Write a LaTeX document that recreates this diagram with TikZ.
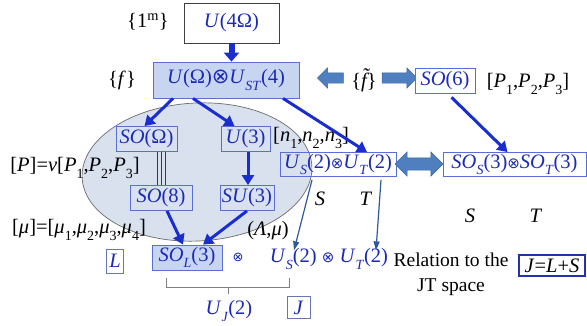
\documentclass[tikz,border=0pt]{standalone}
\usepackage{fontspec}
\setmainfont{Liberation Serif}
\newfontfamily\symf{DejaVu Sans}
\usetikzlibrary{shapes.arrows,arrows.meta}
\definecolor{tblue}{HTML}{1C2BB5}
\definecolor{bord}{HTML}{5A6FD6}
\definecolor{lfill}{HTML}{C8D5F0}
\definecolor{efill}{HTML}{D9E1EF}
\definecolor{blk}{HTML}{4F7FBF}
\definecolor{thinc}{HTML}{2E5A9A}
\definecolor{arrc}{HTML}{1A2ED0}
\definecolor{navyb}{HTML}{2233AA}
\newcommand\lo[1]{\raisebox{-0.32em}{\fontsize{14}{14}\selectfont #1}}
\newcommand\ot[1]{{\symf\fontsize{#1}{#1}\selectfont ⊗}}
\newcommand\ftil{{\itshape\accent"02DC f}}
\tikzset{
  txt/.style={font=\fontsize{20.5}{24}\selectfont, inner sep=0pt},
  box/.style={txt, text=tblue, draw=bord, line width=0.8pt},
  fbox/.style={box, fill=lfill},
  thk/.style={draw=arrc, line width=3pt, -{Triangle[length=10pt,width=12pt]}},
  thn/.style={draw=thinc, line width=1.2pt, -{Triangle[length=9pt,width=6pt]}},
  blkarrow/.style={single arrow, fill=blk, draw=blk!80!black, line width=0.4pt,
    inner sep=5pt, single arrow head extend=5pt, minimum height=#1},
  dblarrow/.style={double arrow, fill=blk, draw=blk!80!black, line width=0.4pt,
    inner sep=6pt, double arrow head extend=6pt, minimum height=#1}
}
\begin{document}
\begin{tikzpicture}[x=1pt,y=-1pt]
\useasboundingbox[fill=white] (0,0) rectangle (587,325);
% ellipse
\draw[fill=efill, draw=gray!85!black, line width=0.7pt, rotate around={3:(197,172)}]
  (197,172) ellipse [x radius=115, y radius=69];
% top
\node[box, draw=black!75, fill=white, minimum width=95pt, minimum height=40pt] (u4) at (231.5,23) {\textit{U}(4Ω)};
\node[txt] (onem) at (148,22) {\{1\textsuperscript{m}\}};
\node[fbox, minimum width=146pt, minimum height=36pt] (uo) at (226,80)
  {\textit{U}(Ω)\ot{21}\textit{U}\lo{\textit{ST}}(4)};
\node[txt] (f) at (122,80) {\{\textit{f}\}};
\node[blkarrow=26pt, shape border rotate=180] (la) at (333,78) {};
\node[txt] (ft) at (364,80) {\{\ftil\}};
\node[blkarrow=35pt] (ra) at (397,78) {};
\node[box, fill=white, minimum width=60pt, minimum height=25pt] (so6) at (445,81) {\textit{SO}(6)};
\node[txt] (p123) at (528,84) {[\textit{P}\lo{1},\textit{P}\lo{2},\textit{P}\lo{3}]};
% inner groups
\node[box, minimum width=61pt, minimum height=25pt] (soo) at (146.5,139) {\textit{SO}(Ω)};
\node[box, minimum width=49pt, minimum height=25pt] (u3) at (245.5,139) {\textit{U}(3)};
\node[txt, anchor=west] (n123) at (273,138) {[\textit{n}\lo{1},\textit{n}\lo{2},\textit{n}\lo{3}]};
\node[box, minimum width=62pt, minimum height=25pt] (so8) at (161,198) {\textit{SO}(8)};
\node[box, minimum width=54pt, minimum height=25pt] (su3) at (247,198) {\textit{SU}(3)};
\node[txt] (pv) at (75,168) {[\textit{P}]=\textit{v}[\textit{P}\lo{1},\textit{P}\lo{2},\textit{P}\lo{3}]};
\node[txt] (mu) at (79,230) {[\textit{μ}]=[\textit{μ}\lo{1},\textit{μ}\lo{2},\textit{μ}\lo{3},\textit{μ}\lo{4}]};
\node[txt] (lm) at (268,231) {(\textit{Λ},\textit{μ})};
% spin-isospin
\node[box, minimum width=116pt, minimum height=24pt] (us) at (338,164.5)
  {\textit{U}\lo{\textit{S}}(2)\ot{15}\textit{U}\lo{\textit{T}}(2)};
\node[dblarrow=48pt] (da) at (419,164) {};
\node[box, fill=white, minimum width=143pt, minimum height=24pt] (sos) at (514.5,164.5)
  {\textit{SO}\lo{\textit{S}}(3)\ot{15}\textit{SO}\lo{\textit{T}}(3)};
\node[txt] (s1) at (320,199) {\textit{S}};
\node[txt] (t1) at (366,199) {\textit{T}};
\node[txt] (s2) at (470,216) {\textit{S}};
\node[txt] (t2) at (536,216) {\textit{T}};
% bottom row
\node[box, draw=bord!60!gray, minimum width=17pt, minimum height=24pt] (lb) at (115,261) {\textit{L}};
\node[fbox, minimum width=70pt, minimum height=25pt] (sol) at (187,257.5) {\textit{SO}\lo{\textit{L}}(3)};
\node[txt, text=tblue] (otb) at (238,257) {\ot{13}};
\node[txt, text=tblue] (usut) at (329,259) {\textit{U}\lo{\textit{S}}(2) \ot{15} \textit{U}\lo{\textit{T}}(2)};
\node[txt, align=center, font=\fontsize{19.5}{25}\selectfont] (rel) at (451,274) {Relation to the\\JT space};
\node[txt, draw=navyb, line width=2pt, minimum width=66pt, minimum height=21pt] (jls) at (552,265.5) {\textit{J}=\textit{L}+\textit{S}};
\node[txt, text=tblue] (uj) at (229,311) {\textit{U}\lo{\textit{J}}(2)};
\node[box, draw=bord!60!gray, minimum width=23pt, minimum height=22pt] (jb) at (298.5,307.5) {\textit{J}};
% bracket
\draw[gray, line width=1pt] (166,278) -- (166,287) -- (289,287) -- (289,278);
\draw[gray, line width=1pt] (228,287) -- (228,294);
% arrows
\draw[draw=arrc, line width=6pt, -{Triangle[length=9pt,width=15pt]}] (u4.south) -- (uo.north -| u4.south);
\draw[thk] ([xshift=-53pt]uo.south) -- ([xshift=-2pt]soo.north);
\draw[thk] ([xshift=-33pt]uo.south) -- ([xshift=-11pt]u3.north);
\draw[thk] ([xshift=57pt]uo.south) -- ([xshift=29pt]us.north);
\draw[thk, shorten <=5pt] ([xshift=3pt]so6.south) -- ([xshift=-7pt]sos.north);
\draw[thk] ([xshift=2.5pt]u3.south) -- ([xshift=1pt]su3.north);
\foreach \dx in {11,15,19}
  \draw[draw=arrc, line width=1.4pt] ([xshift=\dx pt]soo.south) -- ([xshift=\dx pt]soo.south |- so8.north);
\draw[thk] ([xshift=6pt]so8.south) -- ([xshift=-4pt]sol.north);
\draw[thk] ([xshift=0pt]su3.south) -- ([xshift=16pt]sol.north);
\draw[thn] ([xshift=-26pt,yshift=-3pt]us.south) -- ([xshift=-35pt,yshift=-2pt]usut.north);
\draw[thn] ([xshift=43pt,yshift=-3pt]us.south) -- ([xshift=47pt,yshift=-2pt]usut.north);
\end{tikzpicture}
\end{document}
